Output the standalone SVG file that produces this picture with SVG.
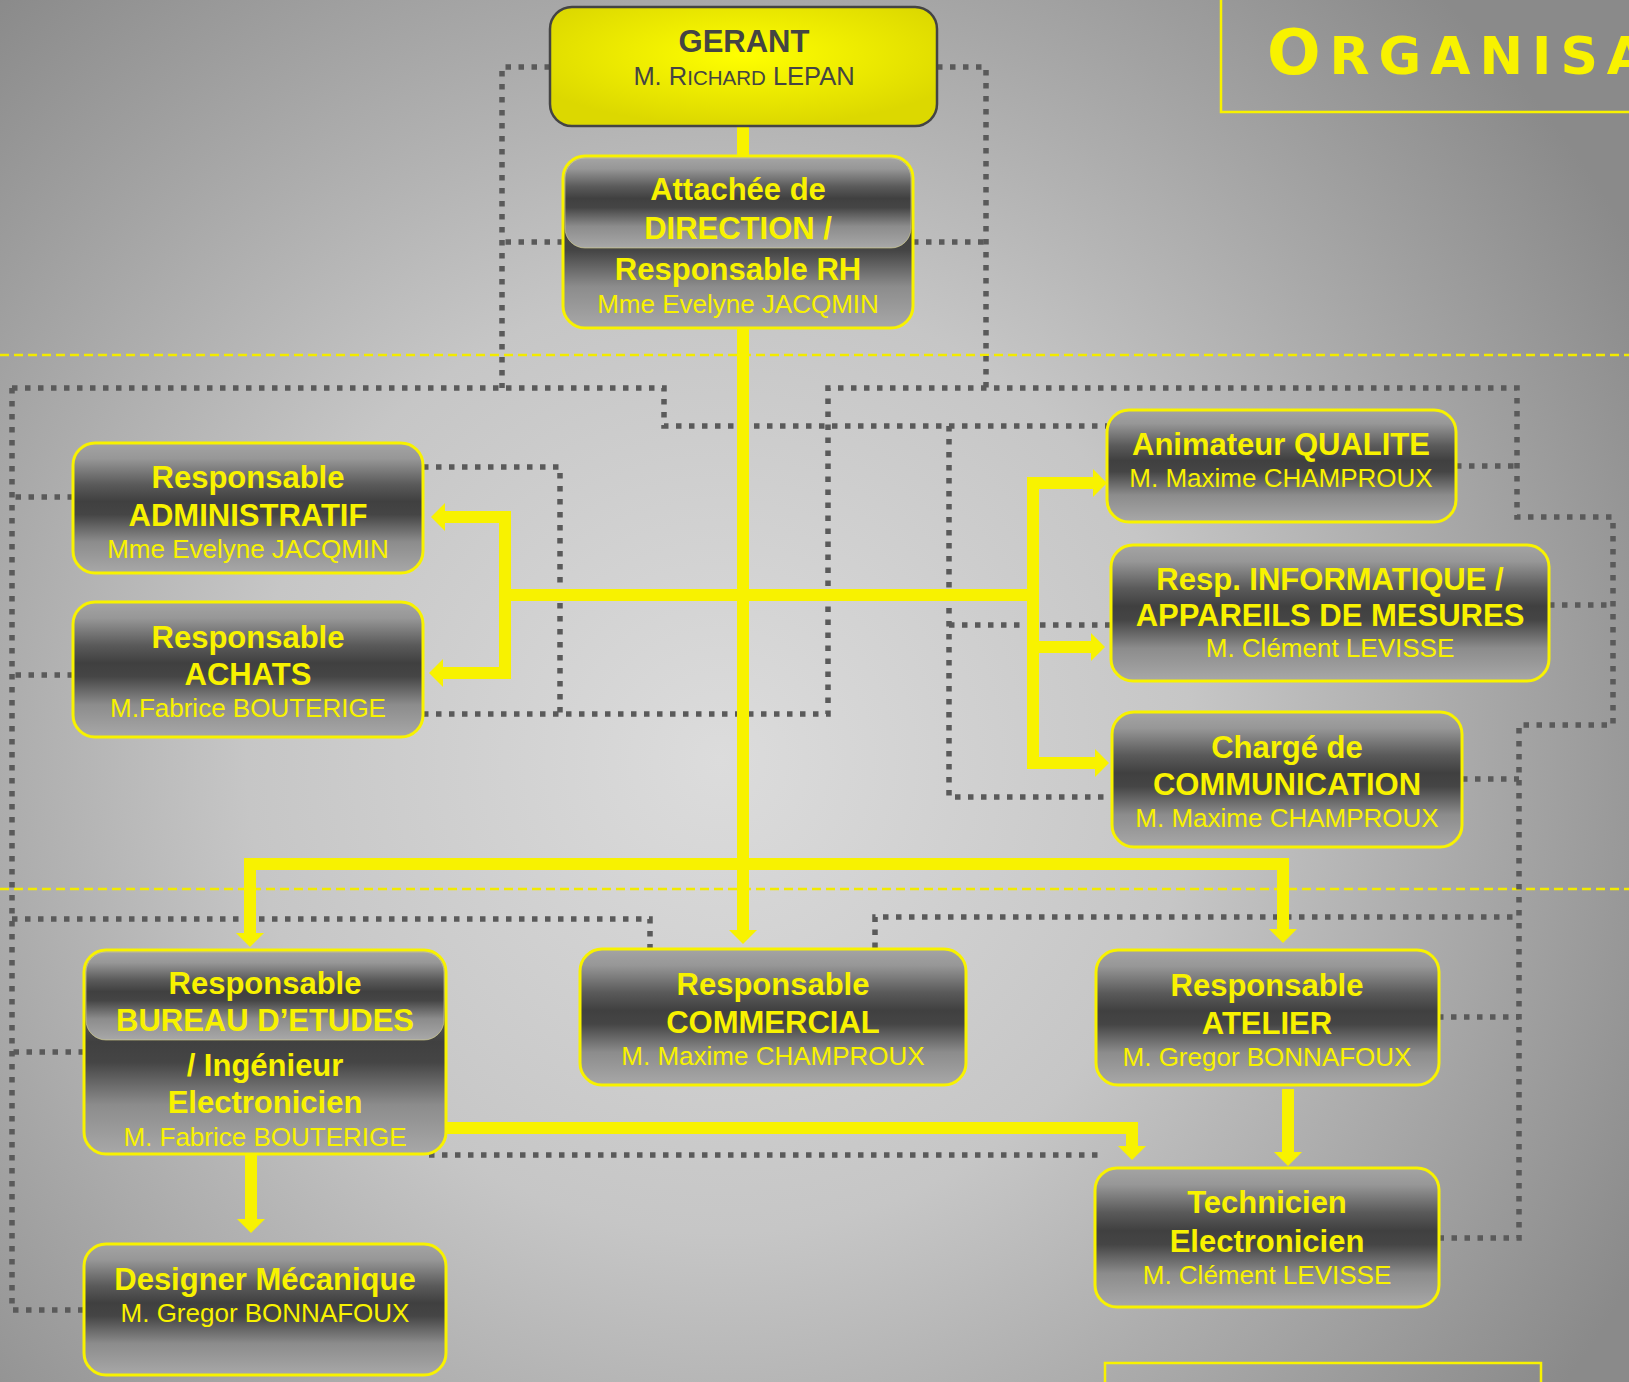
<svg xmlns="http://www.w3.org/2000/svg" width="1629" height="1382" viewBox="0 0 1629 1382">
<defs>
  <radialGradient id="bg" gradientUnits="userSpaceOnUse" cx="720" cy="760" r="1050">
    <stop offset="0" stop-color="#dcdcdc"/>
    <stop offset="0.45" stop-color="#c6c6c6"/>
    <stop offset="1" stop-color="#8a8a8a"/>
  </radialGradient>
  <linearGradient id="box" x1="0" y1="0" x2="0" y2="1">
    <stop offset="0" stop-color="#a4a4a4"/>
    <stop offset="0.12" stop-color="#979797"/>
    <stop offset="0.32" stop-color="#5a5a5a"/>
    <stop offset="0.45" stop-color="#404040"/>
    <stop offset="0.55" stop-color="#454545"/>
    <stop offset="0.76" stop-color="#8c8c8c"/>
    <stop offset="1" stop-color="#a8a8a8"/>
  </linearGradient>
  <radialGradient id="gold" cx="0.5" cy="0.4" r="0.6">
    <stop offset="0" stop-color="#ffff00"/>
    <stop offset="1" stop-color="#dcd800"/>
  </radialGradient>
  <marker id="ah" viewBox="0 0 14 28" refX="0" refY="14" markerWidth="14" markerHeight="28" markerUnits="userSpaceOnUse" orient="auto">
    <path d="M0,0 L14,14 L0,28 Z" fill="#f8f200"/>
  </marker>
</defs>
<style>
  .node rect.b0 { fill: url(#box); stroke: #f8f200; stroke-width: 3; }
  .node rect.in { fill: url(#box); stroke: #d8d48a; stroke-width: 1; stroke-opacity: 0.6; }
  .t { font-family: "Liberation Sans", Arial, sans-serif; fill: #f8f200; text-anchor: middle; }
  .bd { font-weight: bold; font-size: 31px; }
  .rg { font-size: 26px; }
  .dot { fill: none; stroke: #5a5a5a; stroke-width: 5.5; stroke-dasharray: 5.5 7.5; }
  .y { fill: none; stroke: #f8f200; stroke-width: 12; stroke-linejoin: miter; }
  .ya { marker-end: url(#ah); }
  .sep { fill: none; stroke: #f2ea00; stroke-width: 2.5; stroke-dasharray: 9 5; }
  .frame { fill: none; stroke: #f8f200; stroke-width: 2.5; }
</style>

<rect x="0" y="0" width="1629" height="1382" fill="url(#bg)"/>

<g id="separators">
  <line class="sep" x1="0" y1="355" x2="1629" y2="355"/>
  <line class="sep" x1="0" y1="889" x2="1629" y2="889"/>
</g>

<g id="title">
  <rect class="frame" x="1221" y="-5" width="420" height="117"/>
  <text x="1267" y="74" font-family="'DejaVu Sans', sans-serif" font-weight="bold" fill="#f8f200" letter-spacing="9"><tspan font-size="63">O</tspan><tspan font-size="52">RGANISA</tspan></text>
</g>
<rect id="bottom-frame" class="frame" x="1105" y="1363" width="436" height="40"/>

<g id="connectors">
  <g id="dotted">
    <path class="dot" d="M550,67 H502 V388"/>
    <path class="dot" d="M563,242 H502"/>
    <path class="dot" d="M937,67 H986 V388"/>
    <path class="dot" d="M913,242 H986"/>
    <path class="dot" d="M12,388 H664 V426 H1107"/>
    <path class="dot" d="M12,388 V1310 H84"/>
    <path class="dot" d="M73,497 H12"/>
    <path class="dot" d="M73,675 H12"/>
    <path class="dot" d="M84,1052 H12"/>
    <path class="dot" d="M423,467 H560 V714"/>
    <path class="dot" d="M423,714 H828 V388 H1517 V517 H1613 V725 H1519 V1238 H1438"/>
    <path class="dot" d="M1456,466 H1517"/>
    <path class="dot" d="M1549,605 H1613"/>
    <path class="dot" d="M1462,779 H1519"/>
    <path class="dot" d="M1438,1017 H1519"/>
    <path class="dot" d="M949,426 V797 H1112"/>
    <path class="dot" d="M949,625 H1111"/>
    <path class="dot" d="M12,919 H650 V948"/>
    <path class="dot" d="M875,948 V917 H1519"/>
    <path class="dot" d="M429,1155 H1104"/>
  </g>
  <g id="solid">
    <path class="y" d="M743,126 V156"/>
    <path class="y ya" d="M743,328 V930"/>
    <path class="y" d="M505,595 H1033"/>
    <path class="y ya" d="M505,595 V517 H445"/>
    <path class="y ya" d="M505,595 V673 H443"/>
    <path class="y ya" d="M1033,595 V483 H1093"/>
    <path class="y ya" d="M1033,595 V647 H1091"/>
    <path class="y ya" d="M1033,595 V763 H1095"/>
    <path class="y ya" d="M743,864 H250 V933"/>
    <path class="y ya" d="M743,864 H1283 V929"/>
    <path class="y ya" d="M251,1154 V1219"/>
    <path class="y ya" d="M446,1128 H1132 V1146"/>
    <path class="y ya" d="M1288,1089 V1152"/>
  </g>
</g>

<g id="gerant" class="node">
  <rect x="550" y="7" width="387" height="119" rx="22" fill="url(#gold)" stroke="#444" stroke-width="2.5"/>
  <text class="t bd" x="744" y="52" style="fill:#444">GERANT</text>
  <text class="t" x="744" y="85" style="fill:#444" font-size="25.5">M. R<tspan font-size="20.5">ICHARD</tspan> LEPAN</text>
</g>

<g id="attachee" class="node">
  <rect class="b0" x="563" y="156" width="350" height="172" rx="22"/>
  <rect class="in" x="565" y="158" width="346" height="90" rx="20"/>
  <text class="t bd" x="738" y="200">Attachée de</text>
  <text class="t bd" x="738" y="239">DIRECTION /</text>
  <text class="t bd" x="738" y="280">Responsable RH</text>
  <text class="t rg" x="738" y="313">Mme Evelyne JACQMIN</text>
</g>

<g id="administratif" class="node">
  <rect class="b0" x="73" y="443" width="350" height="130" rx="22"/>
  <text class="t bd" x="248" y="488">Responsable</text>
  <text class="t bd" x="248" y="526">ADMINISTRATIF</text>
  <text class="t rg" x="248" y="558">Mme Evelyne JACQMIN</text>
</g>

<g id="achats" class="node">
  <rect class="b0" x="73" y="602" width="350" height="135" rx="22"/>
  <text class="t bd" x="248" y="648">Responsable</text>
  <text class="t bd" x="248" y="685">ACHATS</text>
  <text class="t rg" x="248" y="717">M.Fabrice BOUTERIGE</text>
</g>

<g id="qualite" class="node">
  <rect class="b0" x="1107" y="410" width="349" height="112" rx="22"/>
  <text class="t bd" x="1281" y="455">Animateur QUALITE</text>
  <text class="t rg" x="1281" y="487">M. Maxime CHAMPROUX</text>
</g>

<g id="informatique" class="node">
  <rect class="b0" x="1111" y="545" width="438" height="136" rx="22"/>
  <text class="t bd" x="1330" y="590">Resp. INFORMATIQUE /</text>
  <text class="t bd" x="1330" y="626">APPAREILS DE MESURES</text>
  <text class="t rg" x="1330" y="657">M. Clément LEVISSE</text>
</g>

<g id="communication" class="node">
  <rect class="b0" x="1112" y="712" width="350" height="135" rx="22"/>
  <text class="t bd" x="1287" y="758">Chargé de</text>
  <text class="t bd" x="1287" y="795">COMMUNICATION</text>
  <text class="t rg" x="1287" y="827">M. Maxime CHAMPROUX</text>
</g>

<g id="bureau-etudes" class="node">
  <rect class="b0" x="84" y="950" width="362" height="204" rx="22"/>
  <rect class="in" x="86" y="952" width="358" height="88" rx="20"/>
  <text class="t bd" x="265" y="994">Responsable</text>
  <text class="t bd" x="265" y="1031">BUREAU D’ETUDES</text>
  <text class="t bd" x="265" y="1076">/ Ingénieur</text>
  <text class="t bd" x="265" y="1113">Electronicien</text>
  <text class="t rg" x="265" y="1146">M. Fabrice BOUTERIGE</text>
</g>

<g id="designer" class="node">
  <rect class="b0" x="84" y="1244" width="362" height="131" rx="22"/>
  <text class="t bd" x="265" y="1290">Designer Mécanique</text>
  <text class="t rg" x="265" y="1322">M. Gregor BONNAFOUX</text>
</g>

<g id="commercial" class="node">
  <rect class="b0" x="580" y="949" width="386" height="136" rx="22"/>
  <text class="t bd" x="773" y="995">Responsable</text>
  <text class="t bd" x="773" y="1033">COMMERCIAL</text>
  <text class="t rg" x="773" y="1065">M. Maxime CHAMPROUX</text>
</g>

<g id="atelier" class="node">
  <rect class="b0" x="1096" y="950" width="343" height="135" rx="22"/>
  <text class="t bd" x="1267" y="996">Responsable</text>
  <text class="t bd" x="1267" y="1034">ATELIER</text>
  <text class="t rg" x="1267" y="1066">M. Gregor BONNAFOUX</text>
</g>

<g id="technicien" class="node">
  <rect class="b0" x="1095" y="1168" width="344" height="139" rx="22"/>
  <text class="t bd" x="1267" y="1213">Technicien</text>
  <text class="t bd" x="1267" y="1252">Electronicien</text>
  <text class="t rg" x="1267" y="1284">M. Clément LEVISSE</text>
</g>
</svg>
